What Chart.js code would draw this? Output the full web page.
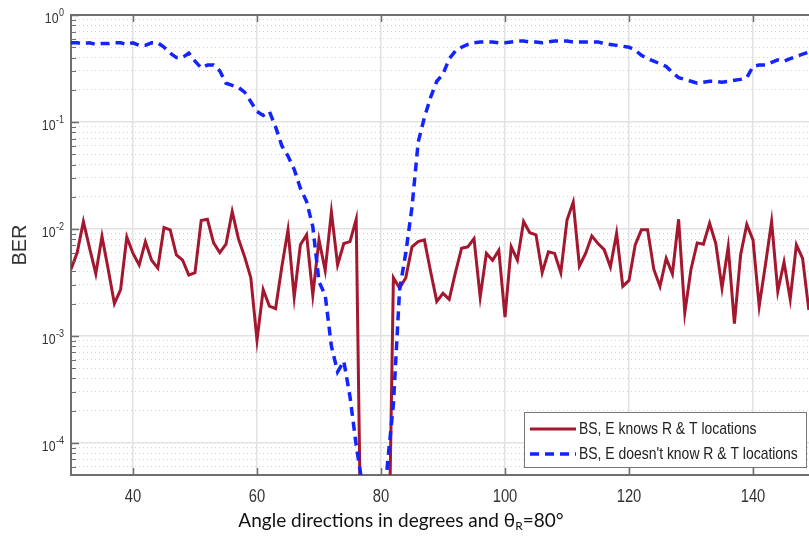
<!DOCTYPE html>
<html>
<head>
<meta charset="utf-8">
<script src="https://cdn.jsdelivr.net/npm/chart.js@4.4.1/dist/chart.umd.min.js"></script>
<style>
  html, body { margin: 0; padding: 0; background: #fff; overflow: hidden; }
  #wrap { position: relative; width: 830px; height: 540px; }
  #xtitle {
    position: absolute; left: 0; top: 508px; width: 802px; text-align: center;
    font-family: Lato, "Open Sans", sans-serif; font-size: 19px; color: #111;
  }
  #xtitle sub { font-size: 12px; vertical-align: -3px; }
</style>
</head>
<body>
<div id="wrap">
  <canvas id="myChart" width="830" height="540"></canvas>
  <div id="xtitle">Angle directions in degrees and θ<sub>R</sub>=80°</div>
</div>
<script>
// angle directions (degrees)
const angles = [
  30, 31, 32, 33, 34, 35, 36, 37, 38, 39,
  40, 41, 42, 43, 44, 45, 46, 47, 48, 49,
  50, 51, 52, 53, 54, 55, 56, 57, 58, 59,
  60, 61, 62, 63, 64, 65, 66, 67, 68, 69,
  70, 71, 72, 73, 74, 75, 76, 77, 78, 79,
  80, 81, 82, 83, 84, 85, 86, 87, 88, 89,
  90, 91, 92, 93, 94, 95, 96, 97, 98, 99,
  100, 101, 102, 103, 104, 105, 106, 107, 108, 109,
  110, 111, 112, 113, 114, 115, 116, 117, 118, 119,
  120, 121, 122, 123, 124, 125, 126, 127, 128, 129,
  130, 131, 132, 133, 134, 135, 136, 137, 138, 139,
  140, 141, 142, 143, 144, 145, 146, 147, 148, 149
];

// BS, E knows R & T locations
const berKnows = [
  4.2e-3, 6.0e-3, 1.17e-2, 6.6e-3, 3.8e-3, 8.5e-3, 4.2e-3, 2.0e-3, 2.7e-3, 8.4e-3,
  5.9e-3, 4.6e-3, 7.6e-3, 5.1e-3, 4.3e-3, 1.03e-2, 9.8e-3, 5.7e-3, 5.1e-3, 3.7e-3,
  3.9e-3, 1.2e-2, 1.23e-2, 7.4e-3, 6.0e-3, 7.2e-3, 1.45e-2, 8.1e-3, 5.5e-3, 3.5e-3,
  9.1e-4, 2.7e-3, 1.9e-3, 1.8e-3, 4.4e-3, 9.8e-3, 2.3e-3, 7.1e-3, 8.8e-3, 2.4e-3,
  7.9e-3, 4.1e-3, 1.44e-2, 4.6e-3, 7.3e-3, 7.6e-3, 1.23e-2, 1e-6, 1e-6, 1e-6,
  1e-6, 1e-6, 3.5e-3, 2.8e-3, 3.5e-3, 6.8e-3, 7.6e-3, 7.9e-3, 4.0e-3, 2.1e-3,
  2.5e-3, 2.2e-3, 3.9e-3, 6.6e-3, 6.8e-3, 8.1e-3, 2.3e-3, 5.9e-3, 5.1e-3, 6.3e-3,
  1.5e-3, 6.8e-3, 5.1e-3, 1.17e-2, 9.2e-3, 8.8e-3, 3.9e-3, 6.1e-3, 5.9e-3, 3.9e-3,
  1.21e-2, 1.78e-2, 4.5e-3, 5.9e-3, 8.6e-3, 7.3e-3, 6.4e-3, 4.4e-3, 9.1e-3, 2.9e-3,
  3.3e-3, 7.1e-3, 9.8e-3, 9.8e-3, 4.2e-3, 2.9e-3, 5.3e-3, 3.8e-3, 1.23e-2, 1.65e-3,
  4.2e-3, 7.4e-3, 7.2e-3, 1.13e-2, 7.3e-3, 2.8e-3, 6.8e-3, 1.3e-3, 5.7e-3, 1.1e-2,
  7.9e-3, 1.9e-3, 4.6e-3, 1.17e-2, 2.6e-3, 4.9e-3, 2.2e-3, 7.1e-3, 5.3e-3, 1.75e-3
];

// BS, E doesn't know R & T locations
const berNotKnows = [
  0.55, 0.55, 0.54, 0.55, 0.53, 0.54, 0.54, 0.55, 0.55, 0.53,
  0.55, 0.52, 0.52, 0.55, 0.55, 0.50, 0.44, 0.40, 0.40, 0.44,
  0.37, 0.32, 0.34, 0.34, 0.30, 0.23, 0.22, 0.21, 0.19, 0.155,
  0.125, 0.115, 0.125, 0.09, 0.06, 0.048, 0.036, 0.024, 0.018, 0.0105,
  3.2e-3, 2.4e-3, 8e-4, 4.6e-4, 5.8e-4, 2.7e-4, 9.5e-5, 4e-5, 1e-6, 1e-6,
  1e-6, 6e-5, 2.3e-4, 2.7e-3, 6e-3, 0.016, 0.065, 0.11, 0.17, 0.24,
  0.28, 0.39, 0.46, 0.50, 0.53, 0.55, 0.56, 0.56, 0.56, 0.55,
  0.55, 0.56, 0.57, 0.57, 0.56, 0.56, 0.55, 0.56, 0.57, 0.57,
  0.57, 0.56, 0.56, 0.56, 0.56, 0.56, 0.54, 0.53, 0.52, 0.51,
  0.50, 0.47, 0.42, 0.39, 0.37, 0.35, 0.33, 0.29, 0.26, 0.25,
  0.24, 0.23, 0.235, 0.24, 0.24, 0.235, 0.24, 0.245, 0.25, 0.26,
  0.33, 0.34, 0.34, 0.36, 0.38, 0.37, 0.39, 0.41, 0.43, 0.45
];

const seriesLabels = ["BS, E knows R & T locations", "BS, E doesn't know R & T locations"];
const xTicks = [40, 60, 80, 100, 120, 140];
const yTicks = [1e-4, 1e-3, 1e-2, 1e-1, 1];
const yTickExp = ["-4", "-3", "-2", "-1", "0"];

const sans = "'Liberation Sans', Arial, sans-serif";
const squeeze = 0.82; // narrow Helvetica look of the original
const axisGray = "#6e6e6e";

// minor log grid (2..9 x each decade)
const minorTicks = [];
for (let e = -5; e < 0; e++) {
  for (let m = 2; m <= 9; m++) {
    const v = m * Math.pow(10, e);
    if (v >= 5e-5 && v < 1) minorTicks.push(v);
  }
}

// draw text squeezed horizontally, anchored at x
function narrowText(ctx, text, x, y, align) {
  ctx.save();
  ctx.translate(x, y);
  ctx.scale(squeeze, 1);
  ctx.textAlign = align;
  ctx.fillText(text, 0, 0);
  ctx.restore();
}

const decor = {
  id: "decor",
  afterDraw(chart) {
    const ctx = chart.ctx;
    const a = chart.chartArea;
    const sx = chart.scales.x, sy = chart.scales.y;
    const line = (x1, y1, x2, y2) => { ctx.beginPath(); ctx.moveTo(x1, y1); ctx.lineTo(x2, y2); ctx.stroke(); };
    ctx.save();
    // box top
    ctx.strokeStyle = axisGray;
    ctx.lineWidth = 2;
    line(a.left, a.top, a.right, a.top);
    // inside ticks
    ctx.lineWidth = 1.5;
    xTicks.forEach(v => {
      const px = Math.round(sx.getPixelForValue(v)) + 0.5;
      line(px, a.bottom, px, a.bottom - 7);
      line(px, a.top, px, a.top + 7);
    });
    yTicks.forEach(v => {
      const py = Math.round(sy.getPixelForValue(v)) + 0.5;
      line(a.left, py, a.left + 8, py);
    });
    ctx.lineWidth = 1;
    minorTicks.forEach(v => {
      const py = Math.round(sy.getPixelForValue(v)) + 0.5;
      line(a.left, py, a.left + 5, py);
    });
    // x tick labels
    ctx.fillStyle = "#333";
    ctx.textBaseline = "alphabetic";
    ctx.font = "18px " + sans;
    xTicks.forEach(v => {
      narrowText(ctx, String(v), sx.getPixelForValue(v), 502, "center");
    });
    // y tick labels 10^n
    yTicks.forEach((v, i) => {
      const py = sy.getPixelForValue(v);
      ctx.font = "11px " + sans;
      const w = ctx.measureText(yTickExp[i]).width * squeeze;
      narrowText(ctx, yTickExp[i], 64, py + 1, "right");
      ctx.font = "15px " + sans;
      narrowText(ctx, "10", 64 - w - 0.5, py + 8, "right");
    });
    // legend box
    const lx = 524, ly = 412, lw = 282, lh = 55;
    ctx.fillStyle = "#fff";
    ctx.fillRect(lx, ly, lw, lh);
    ctx.strokeStyle = "#777";
    ctx.lineWidth = 1;
    ctx.strokeRect(lx + 0.5, ly + 0.5, lw, lh);
    chart.data.datasets.forEach((ds, i) => {
      const y = 429 + i * 25;
      ctx.strokeStyle = ds.borderColor;
      ctx.lineWidth = ds.borderWidth;
      ctx.setLineDash(ds.borderDash || []);
      line(530, y, 576, y);
      ctx.setLineDash([]);
      ctx.fillStyle = "#222";
      ctx.textBaseline = "middle";
      ctx.font = "17px " + sans;
      narrowText(ctx, ds.label, 579, y, "left");
    });
    ctx.restore();
  }
};

new Chart("myChart", {
  type: "line",
  data: {
    datasets: [{
      label: seriesLabels[0],
      data: angles.map((x, i) => ({ x: x, y: berKnows[i] })),
      borderColor: "#a3172f",
      borderWidth: 3,
      pointRadius: 0,
      tension: 0,
      order: 1
    }, {
      label: seriesLabels[1],
      data: angles.map((x, i) => ({ x: x, y: berNotKnows[i] })),
      borderColor: "#1424ff",
      borderWidth: 3.5,
      borderDash: [9, 6],
      pointRadius: 0,
      tension: 0,
      order: 0
    }]
  },
  options: {
    responsive: false,
    animation: false,
    layout: { padding: { left: 0, right: 15, top: 15, bottom: 0 } },
    plugins: {
      legend: { display: false },
      tooltip: { enabled: false }
    },
    scales: {
      x: {
        type: "linear",
        min: 30,
        max: 150,
        afterBuildTicks: s => { s.ticks = xTicks.map(v => ({ value: v })); },
        afterFit: s => { s.height = 65; },
        grid: { color: "#e2e2e2", lineWidth: 1.5, drawTicks: false },
        border: { color: axisGray, width: 2 },
        ticks: { display: false }
      },
      y: {
        type: "logarithmic",
        position: "left",
        min: 5e-5,
        max: 1,
        afterBuildTicks: s => { s.ticks = yTicks.map(v => ({ value: v })); },
        afterFit: s => { s.width = 71; },
        grid: { color: "#e2e2e2", lineWidth: 1.5, drawTicks: false },
        border: { color: axisGray, width: 2 },
        ticks: { display: false },
        title: {
          display: true, text: "BER", color: "#333",
          font: { family: sans, size: 20 },
          padding: { top: 8, bottom: 0 }
        }
      },
      yMinor: {
        type: "logarithmic",
        position: "left",
        min: 5e-5,
        max: 1,
        afterBuildTicks: s => { s.ticks = minorTicks.map(v => ({ value: v })); },
        afterFit: s => { s.width = 0; },
        grid: { color: "#d4d4d4", lineWidth: 1, drawTicks: false },
        border: { display: false, dash: [1, 3] },
        ticks: { display: false }
      }
    }
  },
  plugins: [decor]
});
</script>
</body>
</html>
